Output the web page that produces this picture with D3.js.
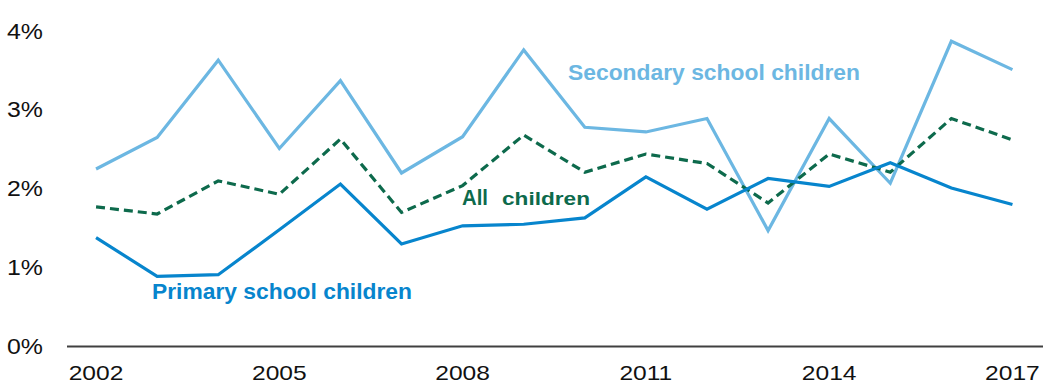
<!DOCTYPE html>
<html>
<head>
<meta charset="utf-8">
<script src="https://cdn.jsdelivr.net/npm/d3@7"></script>
<style>
html,body{margin:0;padding:0;background:#fff;}
svg{display:block;font-family:"Liberation Sans",Arial,sans-serif;}
</style>
</head>
<body>
<svg id="chart" width="1043" height="385"></svg>
<script>
const years = [2002,2003,2004,2005,2006,2007,2008,2009,2010,2011,2012,2013,2014,2015,2016,2017];
const secondary = [2.25,2.65,3.63,2.51,3.37,2.20,2.66,3.76,2.78,2.72,2.89,1.47,2.89,2.07,3.87,3.51];
const allChildren = [1.77,1.68,2.10,1.93,2.63,1.70,2.04,2.68,2.21,2.44,2.32,1.82,2.44,2.21,2.89,2.62];
const primary = [1.38,0.89,0.91,1.48,2.06,1.30,1.53,1.55,1.63,2.15,1.74,2.13,2.03,2.33,2.01,1.80];
const yTicks = [0,1,2,3,4];
const xTickYears = [2002,2005,2008,2011,2014,2017];

const svg = d3.select("#chart");
const x = d3.scalePoint().domain(years).range([65.5,1043]).padding(0.5);
const y = d3.scaleLinear().domain([0,4]).range([346.5,31]);

function stretch(sel, f){
  sel.each(function(){
    const n = this.getComputedTextLength();
    d3.select(this).attr("textLength", n*f).attr("lengthAdjust","spacingAndGlyphs");
  });
}

// y tick labels
const yl = svg.append("g").selectAll("text").data(yTicks).join("text")
  .attr("x",7).attr("y",d=>y(d)+7.5)
  .attr("font-size",22).attr("fill","#111")
  .text(d=>d+"%");
stretch(yl,1.13);

// x axis line
svg.append("line").attr("x1",67).attr("x2",1043).attr("y1",y(0)).attr("y2",y(0))
  .attr("stroke","#404040").attr("stroke-width",2);

// x tick labels
const xl = svg.append("g").selectAll("text").data(xTickYears).join("text")
  .attr("font-size",21).attr("fill","#111")
  .attr("y",380)
  .text(d=>d);
stretch(xl,1.17);
xl.each(function(d){
  const w = +d3.select(this).attr("textLength");
  d3.select(this).attr("x", x(d)-w/2);
});

const line = d3.line().x((d,i)=>x(years[i])).y(d=>y(d));

svg.append("path").datum(secondary).attr("d",line).attr("fill","none")
  .attr("stroke","#6cb7e2").attr("stroke-width",3.2).attr("stroke-linejoin","miter");
svg.append("path").datum(allChildren).attr("d",line).attr("fill","none")
  .attr("stroke","#0d6a4c").attr("stroke-width",3.2).attr("stroke-dasharray","9,5");
svg.append("path").datum(primary).attr("d",line).attr("fill","none")
  .attr("stroke","#0785cd").attr("stroke-width",3.2);

// labels
function fitText(t, x0, w){
  t.attr("x",x0).attr("textLength",w).attr("lengthAdjust","spacingAndGlyphs");
}
fitText(svg.append("text").attr("y",80).attr("font-size",22).attr("font-weight","bold")
  .attr("fill","#6cb7e2").text("Secondary school children"),568,292);
fitText(svg.append("text").attr("y",299).attr("font-size",22).attr("font-weight","bold")
  .attr("fill","#0785cd").text("Primary school children"),152,260);
fitText(svg.append("text").attr("y",205).attr("font-size",22.5).attr("font-weight","bold")
  .attr("fill","#0d6a4c").text("All"),462,26);
fitText(svg.append("text").attr("y",205).attr("font-size",18.5).attr("font-weight","bold")
  .attr("fill","#0d6a4c").text("children"),502,88);
</script>
</body>
</html>
